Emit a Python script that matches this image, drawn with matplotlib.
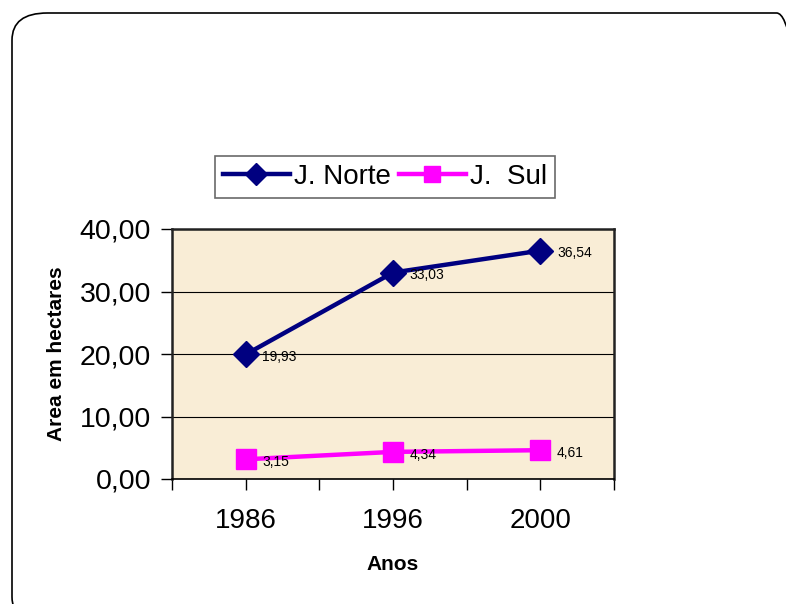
import matplotlib.pyplot as plt
import numpy as np
from matplotlib.patches import FancyBboxPatch
from matplotlib.ticker import FuncFormatter, MultipleLocator

plt.rcParams['font.family'] = ['Liberation Sans', 'DejaVu Sans']

anos = ['1986', '1996', '2000']
norte = [19.93, 33.03, 36.54]
sul = [3.15, 4.34, 4.61]

fig = plt.figure(figsize=(7.86, 6.04), dpi=100)

# rounded frame around the whole chart
frame = FancyBboxPatch((12 / 786, -20 / 604), 800 / 786, 611 / 604,
                       boxstyle='round,pad=0,rounding_size=0.045',
                       transform=fig.transFigure, fill=False,
                       edgecolor='black', linewidth=1.2, clip_on=False)
fig.patches.append(frame)

ax = fig.add_axes([172 / 786, 1 - 479 / 604, 442 / 786, 250 / 604])
ax.set_facecolor('#F9EDD6')

x = np.arange(len(anos))
ax.plot(x, norte, color='#000080', linewidth=3.2, marker='D', markersize=13,
        label='J. Norte', zorder=3)
ax.plot(x, sul, color='#FF00FF', linewidth=3.2, marker='s', markersize=14,
        label='J.  Sul', zorder=3)

for xi, v in zip(x, norte):
    ax.annotate('{:.2f}'.format(v).replace('.', ','), (xi, v), xytext=(12, -2),
                textcoords='offset points', fontsize=10, va='center', zorder=4)
for xi, v in zip(x, sul):
    ax.annotate('{:.2f}'.format(v).replace('.', ','), (xi, v), xytext=(12, -2),
                textcoords='offset points', fontsize=10, va='center', zorder=4)

ax.set_xlim(-0.5, 2.5)
ax.set_ylim(0, 40)
ax.set_xticks(x)
ax.set_xticklabels(anos)
ax.xaxis.set_minor_locator(MultipleLocator(0.5))
ax.yaxis.set_major_locator(MultipleLocator(10))
ax.yaxis.set_major_formatter(FuncFormatter(lambda v, p: '{:.2f}'.format(v).replace('.', ',')))
ax.grid(axis='y', color='black', linewidth=0.8)
ax.set_axisbelow(True)

ax.tick_params(axis='x', which='both', length=8, width=1, direction='out')
ax.tick_params(axis='x', which='major', labelsize=20, pad=13)
ax.tick_params(axis='y', length=8, width=1, direction='out', labelsize=20.5, pad=7)

for side in ['top', 'right', 'left']:
    ax.spines[side].set_color('#222222')
    ax.spines[side].set_linewidth(1.8)
ax.spines['bottom'].set_linewidth(1.2)

ax.set_xlabel('Anos', fontsize=15, fontweight='bold', labelpad=15)
ax.set_ylabel('Area em hectares', fontsize=15, fontweight='bold', labelpad=10)

leg = ax.legend(loc='center', bbox_to_anchor=(385 / 786, 1 - 177 / 604),
                bbox_transform=fig.transFigure, ncol=2, fontsize=20,
                frameon=True, fancybox=False, edgecolor='#444444',
                handlelength=2.4, handletextpad=0.15, columnspacing=0.3,
                borderpad=0.3, markerscale=0.85)
leg.get_frame().set_linewidth(1.2)

fig.savefig('out.png', dpi=100)
